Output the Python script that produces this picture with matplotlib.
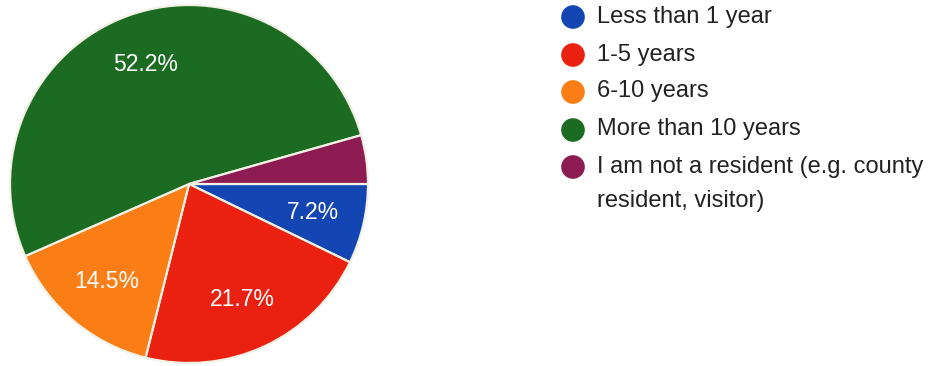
import matplotlib
matplotlib.use('Agg')
import matplotlib.pyplot as plt
import numpy as np

plt.rcParams['font.family'] = ['Liberation Sans', 'DejaVu Sans']

# Residency duration responses (percent of respondents)
labels = ['Less than 1 year', '1-5 years', '6-10 years', 'More than 10 years',
          'I am not a resident (e.g. county\nresident, visitor)']
shares = [7.2, 21.7, 14.5, 52.2, 4.4]
colors = ['#1346b2', '#ea2110', '#fb7d16', '#1b6c22', '#8c1c52']
shown = [True, True, True, True, False]  # smallest slice carries no label

W, H = 932, 366
fig = plt.figure(figsize=(W / 100, H / 100), dpi=100)

# pie: centre (189, 184) px, radius 179 px
cx, cy, r = 189, 184, 179
ax = fig.add_axes([(cx - r) / W, (H - cy - r) / H, 2 * r / W, 2 * r / H])
wedges, _ = ax.pie(shares, colors=colors, startangle=0, counterclock=False,
                   radius=1, wedgeprops=dict(edgecolor='#f4f2e6', linewidth=1.6))
for w, s, show in zip(wedges, shares, shown):
    mid = np.deg2rad((w.theta1 + w.theta2) / 2)
    if show:
        ax.text(0.71 * np.cos(mid), 0.71 * np.sin(mid), f'{s:.1f}%',
                color='white', fontsize=16.5, ha='center', va='center')
ax.set_xlim(-1, 1)
ax.set_ylim(-1, 1)
ax.set_aspect('equal')
ax.axis('off')

# legend drawn in pixel coordinates
lax = fig.add_axes([0, 0, 1, 1])
lax.set_xlim(0, W)
lax.set_ylim(H, 0)
lax.axis('off')
row_y = [17, 55, 92, 130, 167]
for y, lab, col in zip(row_y, labels, colors):
    lax.scatter([573], [y], s=290, color=col, edgecolors='none')
    lax.text(597, y - 11.5, lab, fontsize=17, color='#222222',
             ha='left', va='top', linespacing=1.75)

fig.savefig('out.png', dpi=100)
